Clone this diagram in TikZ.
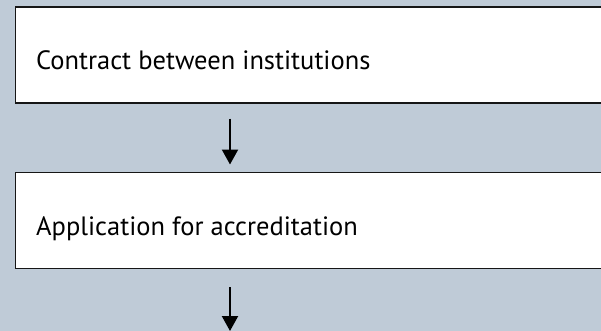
\documentclass[tikz,border=0pt]{standalone}
\usepackage{fontspec}
\setmainfont{PT Sans}
\usetikzlibrary{arrows.meta}
\definecolor{panel}{RGB}{191,203,215}
\definecolor{edge}{RGB}{22,22,22}
\begin{document}
\begin{tikzpicture}[x=1pt,y=-1pt,
  box/.style={draw=edge,line width=1.6pt,fill=white,minimum width=600pt,minimum height=96pt,anchor=north west,inner sep=0pt},
  caption/.style={anchor=base west,inner sep=0pt,font=\fontsize{26.5}{31}\selectfont},
  flow/.style={line width=2.2pt,draw=black,-{Triangle[length=15pt,width=16pt]}}]
  % panel background
  \fill[panel] (0,0) rectangle (601,331);
  \useasboundingbox (0,0) rectangle (601,331);
  % the two stages
  \node[box] (b1) at (14.5,6) {};
  \node[box] (b2) at (14.5,171.5) {};
  \node[caption] (t1) at (36,70) {Contract between institutions};
  \node[caption] (t2) at (36,235) {Application for accreditation};
  % connectors
  \coordinate (ax) at (230,0);
  \coordinate (tail) at (230,331);
  \draw[flow,shorten <=15pt,shorten >=7pt] (b1.south -| ax) -- (b2.north -| ax);
  \draw[flow,shorten <=18pt] (b2.south -| ax) -- (tail);
\end{tikzpicture}
\end{document}
